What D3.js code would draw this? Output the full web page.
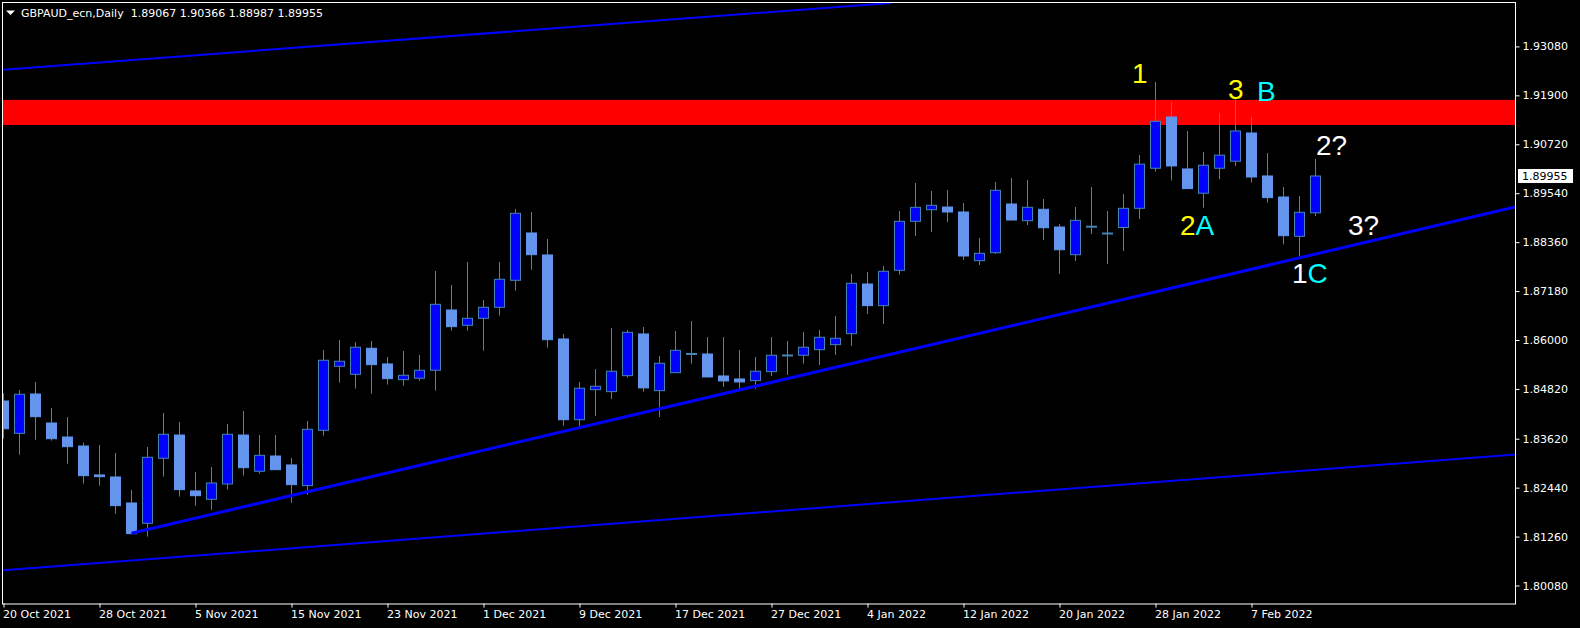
<!DOCTYPE html>
<meta charset="utf-8">
<style>
body { margin: 0; background: #000; }
svg { display: block; }
.axis text { font-family: "DejaVu Sans", sans-serif; font-size: 11px; fill: #fff; }
.axis line { stroke: #fff; }
.axis .domain { display: none; }
.wave { font-family: "Liberation Sans", Arial, sans-serif; font-size: 28px; }
</style>
<body>
<script src="https://d3js.org/d3.v7.min.js"></script>
<script>

var width = 1580,
    height = 628;

// time axis: bar number and its label
var dateTicks = [0, 6, 12, 18, 24, 30, 36, 42, 48, 54, 60, 66, 72, 78];
var dateLabels = ["20 Oct 2021", "28 Oct 2021", "5 Nov 2021", "15 Nov 2021", "23 Nov 2021",
  "1 Dec 2021", "9 Dec 2021", "17 Dec 2021", "27 Dec 2021", "4 Jan 2022", "12 Jan 2022",
  "20 Jan 2022", "28 Jan 2022", "7 Feb 2022"];

var priceTicks = [1.93080, 1.91900, 1.90720, 1.89540, 1.88360, 1.87180, 1.86000,
  1.84820, 1.83620, 1.82440, 1.81260, 1.80080];

// daily GBPAUD candles
var open = [1.84529, 1.83750, 1.84698, 1.83999, 1.83661, 1.83444, 1.82746, 1.82697, 1.82070, 1.81580,
  1.83148, 1.83709, 1.82360, 1.82159, 1.82528, 1.83709, 1.82835, 1.83203, 1.82987, 1.82488,
  1.83823, 1.85367, 1.85174, 1.85801, 1.85423, 1.85044, 1.85078, 1.85271, 1.86724, 1.86355,
  1.86524, 1.86789, 1.87440, 1.88581, 1.88051, 1.86025, 1.84078, 1.84803, 1.84755, 1.85140,
  1.86146, 1.84779, 1.85212, 1.85663, 1.85663, 1.85133, 1.85061, 1.85020, 1.85237, 1.85627,
  1.85632, 1.85767, 1.85888, 1.86153, 1.87351, 1.86828, 1.87682, 1.88862, 1.89142, 1.89207,
  1.89087, 1.87913, 1.88105, 1.89280, 1.88877, 1.89152, 1.88725, 1.88057, 1.88732, 1.88568,
  1.88713, 1.89176, 1.90142, 1.91378, 1.90125, 1.89540, 1.90142, 1.90312, 1.90992, 1.89956,
  1.89449, 1.88501, 1.89067];
var high = [1.84716, 1.84796, 1.84989, 1.84360, 1.84143, 1.83524, 1.83468, 1.83276, 1.82384, 1.83420,
  1.84240, 1.84023, 1.82818, 1.82938, 1.83975, 1.84288, 1.83709, 1.83709, 1.83155, 1.84047,
  1.85760, 1.86001, 1.85946, 1.85977, 1.85591, 1.85736, 1.85640, 1.87665, 1.87327, 1.87882,
  1.86965, 1.87882, 1.89159, 1.89087, 1.88436, 1.86146, 1.84989, 1.85302, 1.86290, 1.86242,
  1.86314, 1.85615, 1.86218, 1.86459, 1.86073, 1.86073, 1.85760, 1.85591, 1.86073, 1.85977,
  1.86194, 1.86242, 1.86580, 1.87592, 1.87641, 1.87785, 1.89111, 1.89787, 1.89594, 1.89618,
  1.89304, 1.88460, 1.89811, 1.89907, 1.89859, 1.89400, 1.88797, 1.89207, 1.89690, 1.89111,
  1.89521, 1.90462, 1.92222, 1.91740, 1.91041, 1.90535, 1.91475, 1.91805, 1.91378, 1.90511,
  1.89690, 1.89473, 1.90366];
var low = [1.83620, 1.83235, 1.83596, 1.83572, 1.83018, 1.82536, 1.82488, 1.81812, 1.81323, 1.81258,
  1.82705, 1.82223, 1.82005, 1.81908, 1.82398, 1.82729, 1.82777, 1.82866, 1.82077, 1.82264,
  1.83693, 1.84972, 1.84827, 1.84707, 1.84924, 1.84900, 1.85013, 1.84779, 1.86225, 1.86225,
  1.85743, 1.86587, 1.87190, 1.87696, 1.85815, 1.83934, 1.83926, 1.84167, 1.84577, 1.85092,
  1.84755, 1.84143, 1.85205, 1.85429, 1.85100, 1.84868, 1.84813, 1.84820, 1.85133, 1.85157,
  1.85429, 1.85398, 1.85640, 1.85856, 1.86627, 1.86386, 1.87576, 1.88508, 1.88604, 1.88845,
  1.87930, 1.87809, 1.88074, 1.88885, 1.88773, 1.88412, 1.87592, 1.87906, 1.88556, 1.87833,
  1.88147, 1.88918, 1.90060, 1.89846, 1.89645, 1.89193, 1.89877, 1.90198, 1.89796, 1.89313,
  1.88308, 1.88009, 1.88987];
var close = [1.83861, 1.84691, 1.84151, 1.83620, 1.83428, 1.82729, 1.82705, 1.82005, 1.81330, 1.83172,
  1.83726, 1.82391, 1.82246, 1.82552, 1.83726, 1.82921, 1.83220, 1.82873, 1.82512, 1.83847,
  1.85512, 1.85488, 1.85825, 1.85406, 1.85068, 1.85150, 1.85271, 1.86861, 1.86322, 1.86524,
  1.86789, 1.87465, 1.89055, 1.88058, 1.86008, 1.84078, 1.84837, 1.84885, 1.85247, 1.86186,
  1.84845, 1.85439, 1.85752, 1.85663, 1.85109, 1.85013, 1.84989, 1.85247, 1.85632, 1.85627,
  1.85825, 1.86066, 1.86042, 1.87368, 1.86828, 1.87658, 1.88862, 1.89200, 1.89248, 1.89087,
  1.88026, 1.88091, 1.89611, 1.88894, 1.89200, 1.88708, 1.88177, 1.88886, 1.88732, 1.88568,
  1.89176, 1.90241, 1.91275, 1.90197, 1.89651, 1.90214, 1.90458, 1.91041, 1.89931, 1.89433,
  1.88516, 1.89080, 1.89955];

// drawn objects: [bar, price] end points
var channelTop = [[-0.03, 1.92518], [55.47, 1.94127]];
var channelBottom = [[-0.03, 1.80445], [94.53, 1.83240]];
var supportLine = [[8, 1.81340], [94.53, 1.89212]];
var resistZone = [1.91790, 1.91185];

// wave labels: bar, price, then [text, colour] pieces
var waveLabels = [
  [70.53, 1.92198, [["1", "#ffff00"]]],
  [76.53, 1.91812, [["3", "#ffff00"]]],
  [78.34, 1.91764, [["B", "#00ffff"]]],
  [82.03, 1.90462, [["2?", "#ffffff"]]],
  [73.53, 1.88532, [["2", "#ffff00"], ["A", "#00ffff"]]],
  [84.03, 1.88532, [["3?", "#ffffff"]]],
  [80.53, 1.87376, [["1", "#ffffff"], ["C", "#00ffff"]]]
];

var plot = {left: 2, right: 1516, top: 2, bottom: 604};

var x = d3.scaleLinear()
    .domain([0, 94.5])
    .range([3.5, 3.5 + 16 * 94.5]);

var y = d3.scaleLinear()
    .domain([1.79634, 1.94151])
    .range([plot.bottom, plot.top]);

var svg = d3.select("body").append("svg")
    .attr("width", width)
    .attr("height", height)
    .style("background", "#000");

svg.append("clipPath").attr("id", "plotclip")
  .append("rect")
    .attr("x", plot.left)
    .attr("y", plot.top)
    .attr("width", plot.right - plot.left)
    .attr("height", plot.bottom - plot.top);

var g = svg.append("g").attr("clip-path", "url(#plotclip)");

// resistance zone sits behind the candles
g.append("rect")
    .attr("x", plot.left)
    .attr("width", plot.right - plot.left)
    .attr("y", y(resistZone[0]))
    .attr("height", y(resistZone[1]) - y(resistZone[0]))
    .attr("fill", "#ff0000");

var bars = d3.range(open.length).map(function(i) {
  return {i: i, o: open[i], h: high[i], l: low[i], c: close[i]};
});

var candle = g.selectAll(".candle")
    .data(bars)
    .enter().append("g")
    .attr("class", "candle");

candle.append("line")
    .attr("x1", function(d) { return x(d.i); })
    .attr("x2", function(d) { return x(d.i); })
    .attr("y1", function(d) { return y(d.h); })
    .attr("y2", function(d) { return y(d.l); })
    .attr("stroke", "#4682b4")
    .attr("stroke-width", 1);

candle.each(function(d) {
  var el = d3.select(this);
  var top = y(Math.max(d.o, d.c)), bot = y(Math.min(d.o, d.c));
  if (bot - top < 1) {
    // doji
    el.append("rect")
      .attr("x", x(d.i) - 5.5)
      .attr("width", 11)
      .attr("y", top - 1)
      .attr("height", 2)
      .attr("fill", "#4682b4");
    return;
  }
  var up = d.c > d.o;
  el.append("rect")
    .attr("x", x(d.i) - 5)
    .attr("width", 10)
    .attr("y", top)
    .attr("height", bot - top)
    .attr("fill", up ? "#0000ff" : "#6495ed")
    .attr("stroke", up ? "#4682b4" : "#6495ed")
    .attr("stroke-width", 1);
});

var line = d3.line()
    .x(function(d) { return x(d[0]); })
    .y(function(d) { return y(d[1]); });

g.append("path").attr("d", line(channelTop))
    .attr("fill", "none").attr("stroke", "#0000ff").attr("stroke-width", 2);
g.append("path").attr("d", line(channelBottom))
    .attr("fill", "none").attr("stroke", "#0000ff").attr("stroke-width", 2);
g.append("path").attr("d", line(supportLine))
    .attr("fill", "none").attr("stroke", "#0000ff").attr("stroke-width", 3);

var labels = g.selectAll(".wave")
    .data(waveLabels)
    .enter().append("text")
    .attr("class", "wave")
    .attr("x", function(d) { return x(d[0]); })
    .attr("y", function(d) { return y(d[1]); });

labels.selectAll("tspan")
    .data(function(d) { return d[2]; })
    .enter().append("tspan")
    .attr("fill", function(p) { return p[1]; })
    .text(function(p) { return p[0]; });

// frame
svg.append("rect")
    .attr("x", plot.left + 0.5)
    .attr("y", plot.top + 0.5)
    .attr("width", plot.right - plot.left - 1)
    .attr("height", plot.bottom - plot.top - 0.5)
    .attr("fill", "none")
    .attr("stroke", "#fff")
    .attr("stroke-width", 1);

// price axis
svg.append("g")
    .attr("class", "axis")
    .attr("transform", "translate(" + (plot.right - 0.5) + ",0)")
    .call(d3.axisRight(y).tickValues(priceTicks).tickSize(4).tickPadding(3)
      .tickFormat(d3.format(".5f")));

// time axis
svg.append("g")
    .attr("class", "axis")
    .attr("transform", "translate(0," + (plot.bottom - 0.5) + ")")
    .call(d3.axisBottom(x).tickValues(dateTicks).tickSize(4).tickPadding(3)
      .tickFormat(function(d, k) { return dateLabels[k]; }))
  .selectAll("text")
    .attr("text-anchor", "start")
    .attr("x", -1);

// last price tag
var last = close[close.length - 1];
svg.append("rect")
    .attr("x", plot.right + 2)
    .attr("y", y(last) - 7)
    .attr("width", 55)
    .attr("height", 14)
    .attr("fill", "#fff");
svg.append("text")
    .attr("class", "axis")
    .attr("x", plot.right + 6)
    .attr("y", y(last))
    .attr("dy", "0.35em")
    .style("font-family", "DejaVu Sans")
    .style("font-size", "11px")
    .attr("fill", "#000")
    .text(d3.format(".5f")(last));

// header
svg.append("path")
    .attr("d", "M6,10.5L15,10.5L10.5,15Z")
    .attr("fill", "#fff");
svg.append("text")
    .attr("x", 21)
    .attr("y", 17)
    .style("font-family", "DejaVu Sans")
    .style("font-size", "11px")
    .attr("fill", "#fff")
    .attr("xml:space", "preserve")
    .text("GBPAUD_ecn,Daily  " + [open, high, low, close].map(function(s) {
      return d3.format(".5f")(s[s.length - 1]);
    }).join(" "));

</script>
